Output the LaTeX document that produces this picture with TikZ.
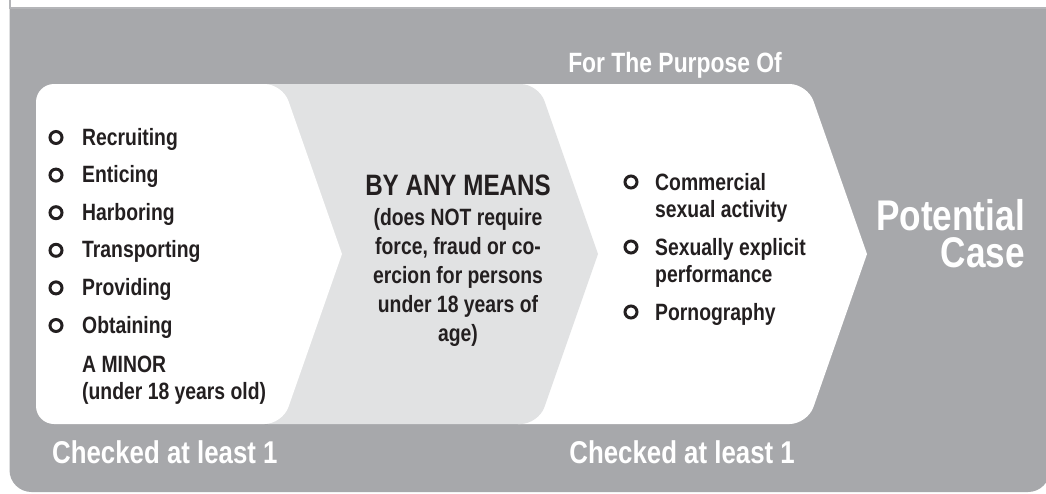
\documentclass[tikz,border=0pt]{standalone}
\usepackage{fontspec}
\setmainfont{Liberation Sans}[FakeStretch=0.82]
\definecolor{panel}{HTML}{A7A8AB}
\definecolor{pale}{HTML}{E1E2E3}
\definecolor{ink}{HTML}{231F20}
\definecolor{rule}{HTML}{B4B5B8}
\tikzset{
  txt/.style={inner sep=0pt, font=\bfseries\fontsize{#1}{#1}\selectfont},
  item/.style={txt=23.6, text=ink, anchor=base west},
  mid/.style={txt=23.6, text=ink, anchor=base},
  head/.style={txt=#1, text=white},
  dot/.style={circle, draw=ink, line width=3pt, minimum size=12pt, inner sep=0pt},
}
\begin{document}
\begin{tikzpicture}[x=1pt, y=-1pt]
\useasboundingbox (0,0) rectangle (1046,493);
\fill[white] (0,0) rectangle (1046,493);
% frame of the box above
\draw[rule, line width=1.6pt] (10,-5) -- (10,8) -- (1050,8);
% grey panel
\fill[panel, rounded corners=22pt] (9.5,9) -- (9.5,492) -- (1050,492) -- (1050,9) [sharp corners] -- cycle;
\fill[panel] (9.5,9) rectangle (1050,40);

% right white chevron
\fill[white, rounded corners=18pt] (867,254) -- (807.5,424) -- (500,424) -- (500,84) -- (807.5,84) -- (867,254);
% middle pale chevron
\fill[pale, rounded corners=18pt] (598,254) -- (538.5,424) -- (250,424) -- (250,84) -- (538.5,84) -- (598,254);
% left white chevron
\fill[white, rounded corners=18pt] (342,254) -- (282.5,424) -- (36,424) -- (36,84) -- (282.5,84) -- (342,254);

% headings
\node[head=27.9, anchor=base east] (purpose) at (782,72) {For The Purpose Of};
\node[head=31.5, anchor=base west] (chk1) at (52,463) {Checked at least 1};
\node[head=31.5, anchor=base east] (chk2) at (795,463) {Checked at least 1};
\node[inner sep=0pt, text=white, align=right, anchor=north east,
      font=\bfseries\fontsize{42.9}{37}\selectfont] (result) at (1025,199) {Potential\\Case};

% left list
\foreach \t [count=\i] in {Recruiting,Enticing,Harboring,Transporting,Providing,Obtaining} {
  \node[item] (l\i) at (82,{145+37.6*(\i-1)}) {\t};
  \node[dot] (lb\i) at (56,{137.5+37.6*(\i-1)}) {};
}
\node[item] (minor) at (82,372) {A MINOR};
\node[item] (age) at (82,399) {(under 18 years old)};

% middle block
\node[txt=29.5, text=ink, anchor=base] (means) at (458,195) {BY ANY MEANS};
\node[mid] (m1) at (458,225) {(does NOT require};
\node[mid] (m2) at (458,254) {force, fraud or co-};
\node[mid] (m3) at (458,283) {ercion for persons};
\node[mid] (m4) at (458,312) {under 18 years of};
\node[mid] (m5) at (458,341) {age)};

% right list
\node[item] (r1) at (655,190) {Commercial};
\node[item] (r1b) at (655,217) {sexual activity};
\node[item] (r2) at (655,255) {Sexually explicit};
\node[item] (r2b) at (655,282) {performance};
\node[item] (r3) at (655,320) {Pornography};
\node[dot] (rb1) at (631,182) {};
\node[dot] (rb2) at (631,247) {};
\node[dot] (rb3) at (631,312) {};
\end{tikzpicture}
\end{document}
